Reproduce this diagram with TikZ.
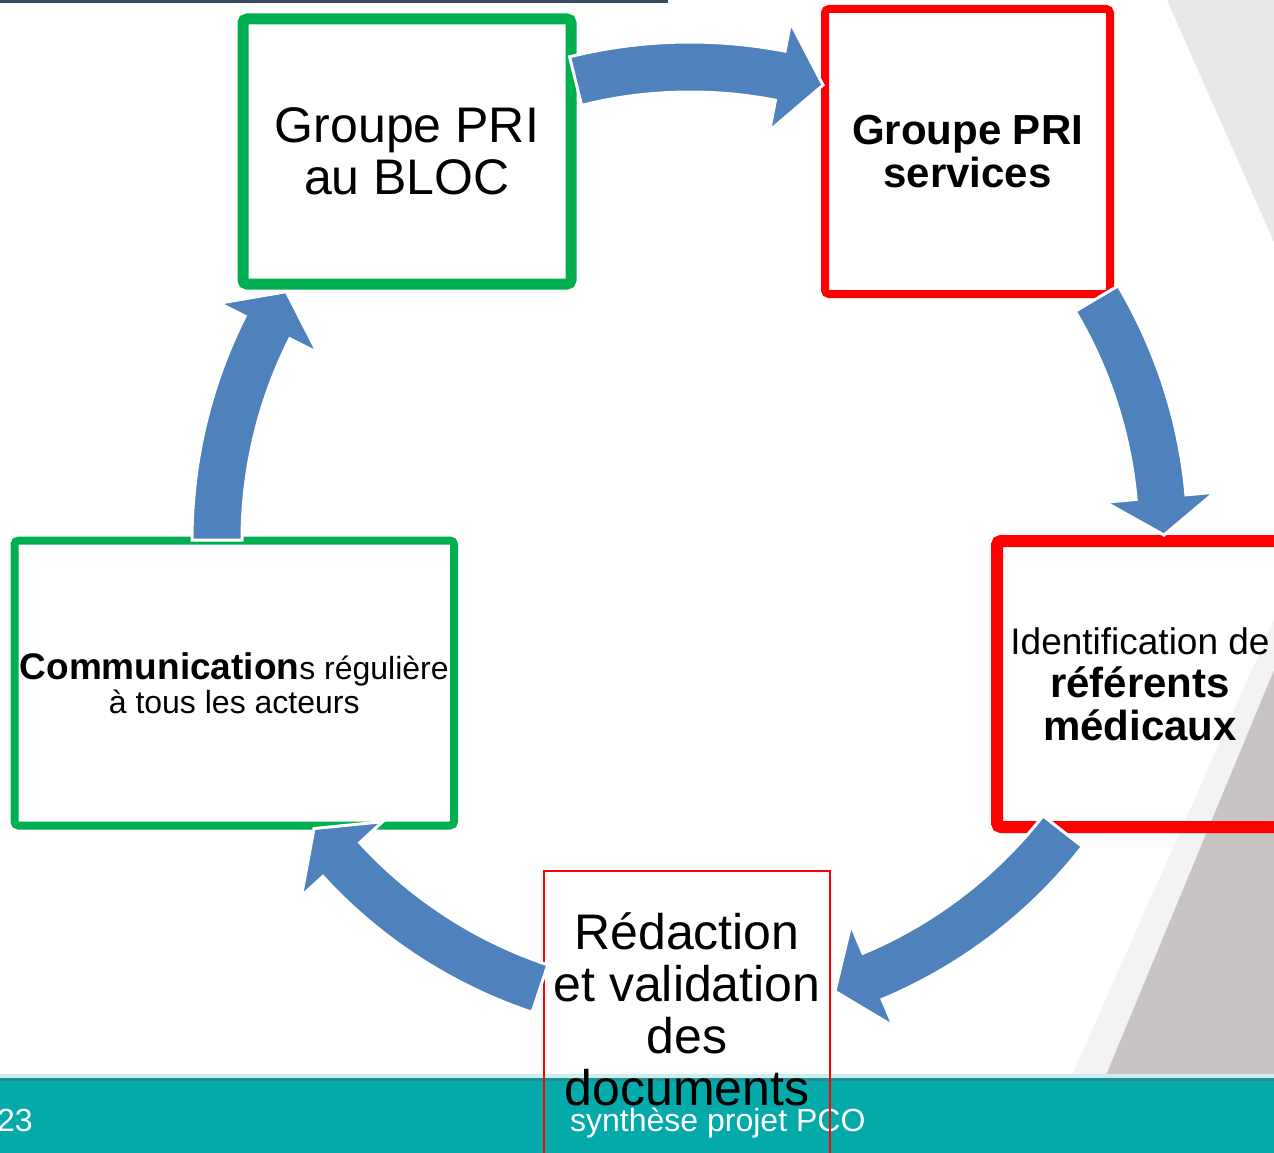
\documentclass[tikz,border=0pt]{standalone}
\usepackage{fontspec}
\setmainfont{Liberation Sans}
\definecolor{arrowblue}{RGB}{79,129,189}
\definecolor{boxgreen}{RGB}{0,176,80}
\definecolor{boxred}{RGB}{255,0,0}
\definecolor{footteal}{RGB}{4,170,170}
\definecolor{footedge}{RGB}{40,140,140}
\definecolor{footlight}{RGB}{200,240,240}
\definecolor{greylight}{RGB}{233,232,233}
\definecolor{greydark}{RGB}{200,196,196}
\definecolor{greyfaint}{RGB}{244,243,243}
\definecolor{navybar}{RGB}{58,72,102}
\newcommand\ringarrow[3]{%
  \filldraw[cyclearrow]
    plot[domain=#1:#2, samples=40] ({690+498*cos(\x)},{540+498*sin(\x)})
    -- ({690+527*cos(#2)},{540+527*sin(#2)})
    -- ({690+474*cos(#3)},{540+474*sin(#3)})
    -- ({690+417*cos(#2)},{540+417*sin(#2)})
    -- plot[domain=#2:#1, samples=40] ({690+448*cos(\x)},{540+448*sin(\x)})
    -- cycle;}
\begin{document}
\begin{tikzpicture}[x=1pt,y=-1pt,
  gbox/.style={draw=boxgreen, rounded corners=4pt, inner sep=0pt, align=center},
  rbox/.style={draw=boxred, rounded corners=4pt, inner sep=0pt, align=center},
  cyclearrow/.style={fill=arrowblue, draw=white, line width=3pt, line join=miter},
  foottext/.style={text=white, inner sep=0pt, font=\fontsize{32}{34}\selectfont}]
\useasboundingbox (0,0) rectangle (1274,1153);
\clip (0,0) rectangle (1274,1153);
% background
\fill[white] (0,0) rectangle (1274,1153);
\fill[greylight] (1167,0) -- (1274,0) -- (1274,242) -- cycle;
\fill[greyfaint] (1274,620) -- (1274,670) -- (1104,1080) -- (1070,1080) -- cycle;
\fill[greydark] (1274,670) -- (1274,1080) -- (1104,1080) -- cycle;
\fill[navybar] (0,0) rectangle (668,3.5);
\fill[footlight] (0,1074) rectangle (1274,1078);
\fill[footteal] (0,1078) rectangle (1274,1153);
\fill[footedge] (0,1078) rectangle (1274,1081);
\node[foottext, anchor=base east] (pagenum) at (33,1131) {23};
\node[foottext, anchor=base west] (footer) at (570,1131) {synthèse projet PCO};
% boxes
\node[gbox, line width=11pt, minimum width=328pt, minimum height=265pt,
      font=\fontsize{50}{52}\selectfont] (bloc) at (407,151.5) {Groupe PRI\\au BLOC};
\node[rbox, line width=8pt, minimum width=285pt, minimum height=285pt,
      font=\bfseries\fontsize{42}{43.5}\selectfont] (serv) at (967.5,151.5) {Groupe PRI\\services};
\node[rbox, line width=12pt, minimum width=286pt, minimum height=286pt,
      font=\fontsize{42}{43}\selectfont] (ref) at (1140,684)
      {{\fontsize{37}{43}\selectfont Identification de}\\{\bfseries référents}\\{\bfseries médicaux}};
\node[gbox, line width=8pt, minimum width=439.5pt, minimum height=285pt,
      font=\fontsize{32}{34}\selectfont] (comm) at (234.25,683)
      {{\bfseries\fontsize{37}{34}\selectfont Communication}s régulière\\à tous les acteurs};
\node[draw=boxred, line width=2pt, minimum width=286pt, minimum height=300pt, inner sep=0pt] (redac) at (687,1021) {};
\node[inner sep=0pt, align=center, font=\fontsize{50}{52}\selectfont] (redactxt) at (687,1009.75)
      {Rédaction\\et validation\\des\\documents};
% cycle arrows
\coordinate (ring) at (690,540);
\ringarrow{256}{281}{286.3}
\ringarrow{329.3}{354.8}{359.4}
\ringarrow{38}{67.3}{72.2}
\ringarrow{108.5}{137.5}{142.5}
\ringarrow{180}{206.7}{211.6}
\end{tikzpicture}
\end{document}
